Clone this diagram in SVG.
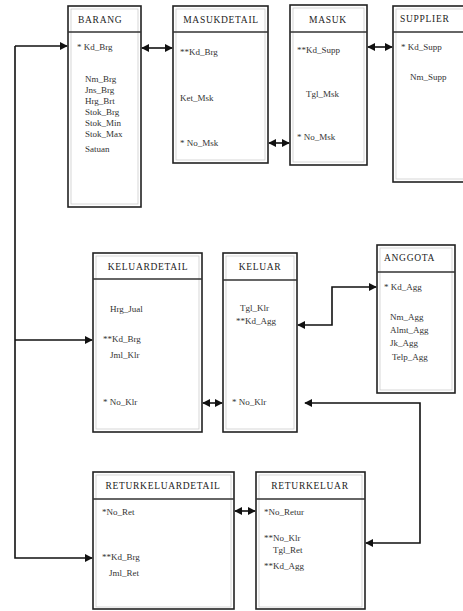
<svg xmlns="http://www.w3.org/2000/svg" width="463" height="611" viewBox="0 0 463 611">
<style>
.box{fill:#fff;stroke:#222;stroke-width:1.6}
.inner{fill:none;stroke:#ccc;stroke-width:0.8}
.hdr{stroke:#333;stroke-width:1.4}
.t{font-family:"Liberation Serif",serif;font-size:9.5px;fill:#222;letter-spacing:0.7px}
.a{font-family:"Liberation Serif",serif;font-size:9px;fill:#333}
.c{fill:none;stroke:#111;stroke-width:1.6}
</style>
<defs>
<marker id="ah" viewBox="0 0 10 10" refX="9" refY="5" markerWidth="5" markerHeight="5" orient="auto-start-reverse">
<path d="M0,0 L10,5 L0,10 z" fill="#111"/>
</marker>
</defs>
<rect width="463" height="611" fill="#fff"/>

<g id="BARANG">
<rect class="box" x="68" y="6" width="73" height="201"/>
<rect class="inner" x="71" y="9" width="67" height="195"/>
<line class="hdr" x1="68" y1="32" x2="141" y2="32"/>
<text class="t" x="78" y="23">BARANG</text>
<text class="a" x="77" y="50">* Kd_Brg</text>
<text class="a" x="85" y="82">Nm_Brg</text>
<text class="a" x="85" y="93">Jns_Brg</text>
<text class="a" x="85" y="104">Hrg_Brt</text>
<text class="a" x="85" y="115">Stok_Brg</text>
<text class="a" x="85" y="126">Stok_Min</text>
<text class="a" x="85" y="137">Stok_Max</text>
<text class="a" x="85" y="152">Satuan</text>
</g>

<g id="MASUKDETAIL">
<rect class="box" x="173" y="6" width="95" height="157"/>
<rect class="inner" x="176" y="9" width="89" height="151"/>
<line class="hdr" x1="173" y1="32" x2="268" y2="32"/>
<text class="t" x="221" y="23" text-anchor="middle">MASUKDETAIL</text>
<text class="a" x="180" y="55">**Kd_Brg</text>
<text class="a" x="180" y="101">Ket_Msk</text>
<text class="a" x="180" y="146">* No_Msk</text>
</g>

<g id="MASUK">
<rect class="box" x="290" y="5" width="77" height="160"/>
<rect class="inner" x="293" y="8" width="71" height="154"/>
<line class="hdr" x1="290" y1="32" x2="367" y2="32"/>
<text class="t" x="328" y="23" text-anchor="middle">MASUK</text>
<text class="a" x="297" y="53">**Kd_Supp</text>
<text class="a" x="306" y="97">Tgl_Msk</text>
<text class="a" x="297" y="140">* No_Msk</text>
</g>

<g id="SUPPLIER">
<rect class="box" x="393" y="6" width="75" height="176"/>
<rect class="inner" x="396" y="9" width="69" height="170"/>
<line class="hdr" x1="393" y1="32" x2="468" y2="32"/>
<text class="t" x="400" y="22">SUPPLIER</text>
<text class="a" x="401" y="50">* Kd_Supp</text>
<text class="a" x="410" y="80">Nm_Supp</text>
</g>

<g id="KELUARDETAIL">
<rect class="box" x="93" y="253" width="109" height="179"/>
<rect class="inner" x="96" y="256" width="103" height="173"/>
<line class="hdr" x1="93" y1="279" x2="202" y2="279"/>
<text class="t" x="148" y="270" text-anchor="middle">KELUARDETAIL</text>
<text class="a" x="110" y="312">Hrg_Jual</text>
<text class="a" x="103" y="342">**Kd_Brg</text>
<text class="a" x="110" y="358">Jml_Klr</text>
<text class="a" x="103" y="405">* No_Klr</text>
</g>

<g id="KELUAR">
<rect class="box" x="223" y="253" width="74" height="179"/>
<rect class="inner" x="226" y="256" width="68" height="173"/>
<line class="hdr" x1="223" y1="280" x2="297" y2="280"/>
<text class="t" x="260" y="270" text-anchor="middle">KELUAR</text>
<text class="a" x="240" y="311">Tgl_Klr</text>
<text class="a" x="236" y="324">**Kd_Agg</text>
<text class="a" x="232" y="405">* No_Klr</text>
</g>

<g id="ANGGOTA">
<rect class="box" x="377" y="245" width="78" height="148"/>
<rect class="inner" x="380" y="248" width="72" height="142"/>
<line class="hdr" x1="377" y1="272" x2="455" y2="272"/>
<text class="t" x="384" y="261">ANGGOTA</text>
<text class="a" x="384" y="290">* Kd_Agg</text>
<text class="a" x="390" y="320">Nm_Agg</text>
<text class="a" x="390" y="333">Almt_Agg</text>
<text class="a" x="390" y="346">Jk_Agg</text>
<text class="a" x="392" y="360">Telp_Agg</text>
</g>

<g id="RETURKELUARDETAIL">
<rect class="box" x="93" y="472" width="141" height="137"/>
<rect class="inner" x="96" y="475" width="135" height="132"/>
<line class="hdr" x1="93" y1="499" x2="234" y2="499"/>
<text class="t" x="163" y="489" text-anchor="middle" letter-spacing="1.2">RETURKELUARDETAIL</text>
<text class="a" x="102" y="515">*No_Ret</text>
<text class="a" x="102" y="560">**Kd_Brg</text>
<text class="a" x="109" y="576">Jml_Ret</text>
</g>

<g id="RETURKELUAR">
<rect class="box" x="256" y="472" width="109" height="137"/>
<rect class="inner" x="259" y="475" width="103" height="132"/>
<line class="hdr" x1="256" y1="499" x2="365" y2="499"/>
<text class="t" x="310" y="489" text-anchor="middle" letter-spacing="1.2">RETURKELUAR</text>
<text class="a" x="264" y="515">*No_Retur</text>
<text class="a" x="264" y="541">**No_Klr</text>
<text class="a" x="273" y="553">Tgl_Ret</text>
<text class="a" x="264" y="569">**Kd_Agg</text>
</g>

<g id="connectors">
<path class="c" d="M15,46 H67" marker-end="url(#ah)"/>
<path class="c" d="M15,46 V558 H92" marker-end="url(#ah)"/>
<path class="c" d="M15,340 H92" marker-end="url(#ah)"/>
<path class="c" d="M142,48 H172" marker-start="url(#ah)" marker-end="url(#ah)"/>
<path class="c" d="M269,143 H289" marker-start="url(#ah)" marker-end="url(#ah)"/>
<path class="c" d="M368,47 H392" marker-start="url(#ah)" marker-end="url(#ah)"/>
<path class="c" d="M203,403 H222" marker-start="url(#ah)" marker-end="url(#ah)"/>
<path class="c" d="M298,325 H332 V287 H376" marker-start="url(#ah)" marker-end="url(#ah)"/>
<path class="c" d="M305,403 H420 V543 H366" marker-start="url(#ah)" marker-end="url(#ah)"/>
<path class="c" d="M235,511 H255" marker-start="url(#ah)" marker-end="url(#ah)"/>
</g>
</svg>
